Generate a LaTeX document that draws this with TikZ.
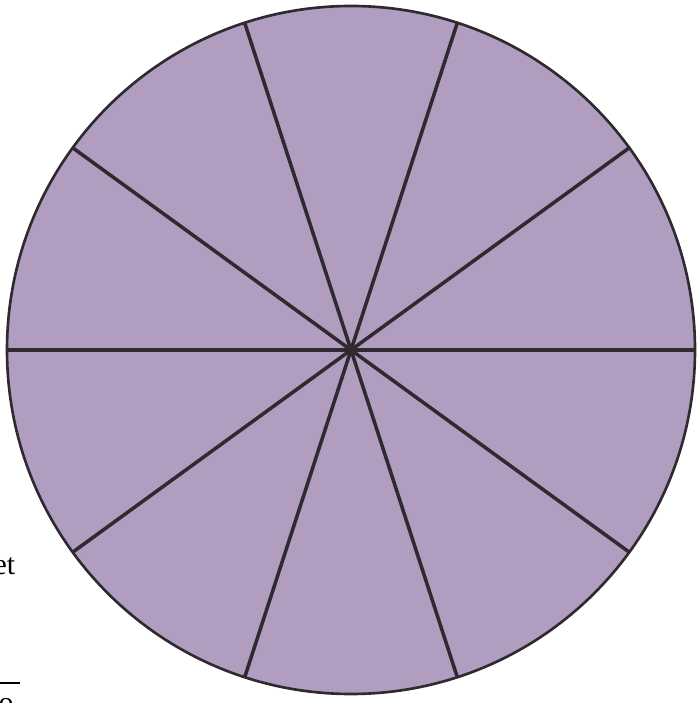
\documentclass[tikz,border=0pt]{standalone}
\usepackage{fontspec}
\setmainfont{Liberation Serif}
\usepackage{tikz}
\usetikzlibrary{positioning}
\definecolor{pieLilac}{HTML}{B09DBF}
\definecolor{pieLine}{HTML}{2E2A30}

\begin{document}
\begin{tikzpicture}[x=0.01cm, y=0.01cm, font=\fontsize{8.5}{10}\selectfont]
\clip (0,0) rectangle (700,703);
\coordinate (centre) at (351,353);
\fill[pieLilac] (centre) circle (344);
\foreach \ang in {0,36,...,324}
{
  \draw[pieLine, line width=1pt] (centre) -- ++(\ang:344);
}
\draw[pieLine, line width=0.75pt] (centre) circle (344);
\node[inner sep=0pt, anchor=base east] (word) at (16,128) {et};
\coordinate (barL) at (0,20);
\coordinate (barR) at (20,20);
\draw[line width=0.55pt] (barL) -- (barR);
\node[inner sep=0pt, anchor=north] (lower) at (6,5) {o};
\end{tikzpicture}
\end{document}
